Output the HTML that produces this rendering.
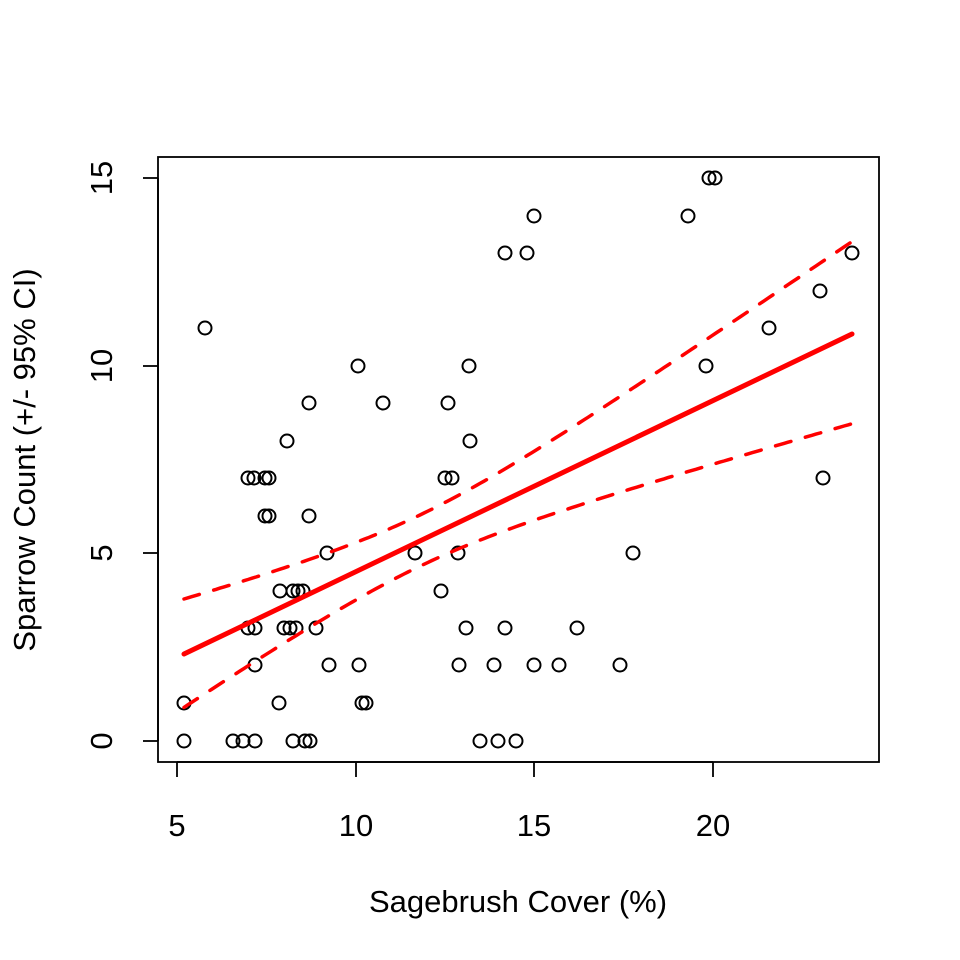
<!DOCTYPE html>
<html><head><style>body{margin:0;background:#fff}svg{display:block}text{font-family:"Liberation Sans",Arial,sans-serif;font-size:31px;fill:#000}</style></head>
<body>
<svg id="s" width="960" height="960" xmlns="http://www.w3.org/2000/svg">
<rect x="158" y="157" width="721" height="605" fill="none" stroke="#000" stroke-width="1.8"/>
<g stroke="#000" stroke-width="1.8">
<line x1="177" y1="762" x2="713" y2="762"/>
<line x1="177" y1="762" x2="177" y2="777"/><line x1="356" y1="762" x2="356" y2="777"/><line x1="534" y1="762" x2="534" y2="777"/><line x1="713" y1="762" x2="713" y2="777"/>
<line x1="158" y1="178" x2="158" y2="741"/>
<line x1="143" y1="741" x2="158" y2="741"/><line x1="143" y1="553" x2="158" y2="553"/><line x1="143" y1="366" x2="158" y2="366"/><line x1="143" y1="178" x2="158" y2="178"/>
</g>
<text x="177" y="836" text-anchor="middle">5</text><text x="356" y="836" text-anchor="middle">10</text><text x="534" y="836" text-anchor="middle">15</text><text x="713" y="836" text-anchor="middle">20</text>
<g text-anchor="middle">
<text transform="translate(112,741) rotate(-90)">0</text>
<text transform="translate(112,553) rotate(-90)">5</text>
<text transform="translate(112,366) rotate(-90)">10</text>
<text transform="translate(112,178) rotate(-90)">15</text>
<text x="518" y="912">Sagebrush Cover (%)</text>
<text transform="translate(35,460) rotate(-90)">Sparrow Count (+/- 95% CI)</text>
</g>
<g id="pts" fill="none" stroke="#000" stroke-width="2"></g>
<g id="lines" fill="none" stroke="#f00" stroke-linecap="round"></g>
</svg>
<script>
var P=[[184,703],[184,741],[205,328],[233,741],[243,741],[255,741],[248,478],[254,478],[248,628],[255,628],[255,665],[265,478],[269,478],[265,516],[269,516],[279,703],[280,591],[284,628],[287,441],[290,628],[293,591],[293,741],[296,628],[298,591],[303,591],[305,741],[310,741],[309,403],[309,516],[316,628],[327,553],[329,665],[358,366],[359,665],[362,703],[366,703],[383,403],[415,553],[441,591],[445,478],[448,403],[452,478],[458,553],[459,665],[466,628],[469,366],[470,441],[480,741],[494,665],[498,741],[505,253],[505,628],[516,741],[527,253],[534,216],[534,665],[559,665],[577,628],[620,665],[633,553],[688,216],[706,366],[709,178],[715,178],[769,328],[820,291],[823,478],[852,253]];
var g=document.getElementById('pts'),h='';
P.forEach(function(p){h+='<circle cx="'+p[0]+'" cy="'+p[1]+'" r="6.5"/>';});g.innerHTML=h;
function f(x){return 654-(x-184)*0.479;}
function w(x){var d=x-420;return Math.sqrt(676+0.0422*d*d);}
var u='',l='';
for(var x=184;x<=852;x+=4){u+=(x==184?'M':'L')+x+','+(f(x)-w(x)).toFixed(1);l+=(x==184?'M':'L')+x+','+(f(x)+w(x)*0.97).toFixed(1);}
document.getElementById('lines').innerHTML='<line x1="184" y1="654" x2="852" y2="334" stroke-width="5"/>'+
'<path d="'+u+'" stroke-width="3.5" stroke-dasharray="16,15"/><path d="'+l+'" stroke-width="3.5" stroke-dasharray="16,15"/>';
</script>
</body></html>
